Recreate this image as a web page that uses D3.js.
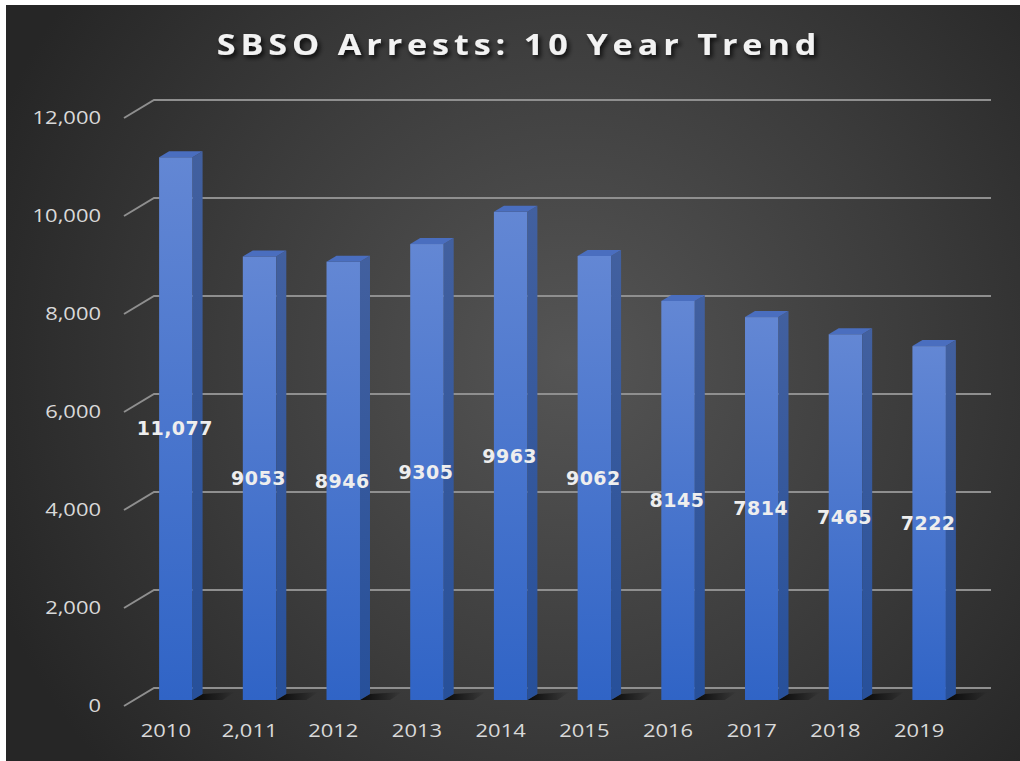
<!DOCTYPE html>
<html>
<head>
<meta charset="utf-8">
<script src="https://cdnjs.cloudflare.com/ajax/libs/d3/7.8.5/d3.min.js"></script>
<style>
	html, body { margin: 0; padding: 0; background: #ffffff; }
	svg { display: block; }
</style>
</head>
<body>
<div id="chart"></div>
<script>

//Data
var years = ["2010", "2,011", "2012", "2013", "2014", "2015", "2016", "2017", "2018", "2019"];
var arrests = [11077, 9053, 8946, 9305, 9963, 9062, 8145, 7814, 7465, 7222];
var valueLabels = ["11,077", "9053", "8946", "9305", "9963", "9062", "8145", "7814", "7465", "7222"];
var yTicks = [0, 2000, 4000, 6000, 8000, 10000, 12000];

///////////////////////////////////////////////////////////////////////////
//////////////////// Set up and initiate svg containers ///////////////////
///////////////////////////////////////////////////////////////////////////

var width = 1020,
	height = 761;

var svg = d3.select("#chart").append("svg")
	.attr("width", width)
	.attr("height", height);

var defs = svg.append("defs");

//Dark radial background
var bgGradient = defs.append("radialGradient")
	.attr("id", "bg-gradient")
	.attr("gradientUnits", "userSpaceOnUse")
	.attr("cx", 570).attr("cy", 360).attr("r", 620);
bgGradient.append("stop").attr("offset", 0).attr("stop-color", "#555555");
bgGradient.append("stop").attr("offset", 0.55).attr("stop-color", "#3c3c3c");
bgGradient.append("stop").attr("offset", 1).attr("stop-color", "#262626");

//Bar faces
var frontGradient = defs.append("linearGradient")
	.attr("id", "front-gradient")
	.attr("x1", 0).attr("y1", 0).attr("x2", 0).attr("y2", 1);
frontGradient.append("stop").attr("offset", 0).attr("stop-color", "#6387d4");
frontGradient.append("stop").attr("offset", 1).attr("stop-color", "#3064c6");

var sideGradient = defs.append("linearGradient")
	.attr("id", "side-gradient")
	.attr("x1", 0).attr("y1", 0).attr("x2", 0).attr("y2", 1);
sideGradient.append("stop").attr("offset", 0).attr("stop-color", "#42609f");
sideGradient.append("stop").attr("offset", 1).attr("stop-color", "#27509a");

var shadowGradient = defs.append("linearGradient")
	.attr("id", "shadow-gradient")
	.attr("x1", 0).attr("y1", 0).attr("x2", 1).attr("y2", 0);
shadowGradient.append("stop").attr("offset", 0).attr("stop-color", "#000000").attr("stop-opacity", 0.85);
shadowGradient.append("stop").attr("offset", 1).attr("stop-color", "#000000").attr("stop-opacity", 0);

var titleShadow = defs.append("filter")
	.attr("id", "title-shadow")
	.attr("x", "-10%").attr("y", "-30%").attr("width", "120%").attr("height", "160%");
titleShadow.append("feDropShadow")
	.attr("dx", 2).attr("dy", 3).attr("stdDeviation", 2)
	.attr("flood-color", "#000000").attr("flood-opacity", 0.8);

svg.append("rect")
	.attr("x", 6).attr("y", 5)
	.attr("width", width - 6).attr("height", height - 5)
	.style("fill", "url(#bg-gradient)");

///////////////////////////////////////////////////////////////////////////
///////////////////////////// Scales & depth //////////////////////////////
///////////////////////////////////////////////////////////////////////////

//Front plane of the 3D box, the back wall sits 30px right and 18px up
var depth = {dx: 30, dy: -18};
var front = {left: 124, right: 961, bottom: 706};

var x = d3.scaleBand()
	.domain(years)
	.range([front.left, front.right]);

var y = d3.scaleLinear()
	.domain([0, 12000])
	.range([front.bottom, front.bottom - 588]);

var barW = x.step() * 0.4;
var sx = 1.22; //horizontal stretch of the text in the picture

///////////////////////////////////////////////////////////////////////////
////////////////////////////// Axes & grid ////////////////////////////////
///////////////////////////////////////////////////////////////////////////

var grid = svg.append("g").attr("class", "grid");

grid.selectAll(".grid-line")
	.data(yTicks)
	.enter().append("polyline")
	.attr("class", "grid-line")
	.attr("points", function(d) {
		var yy = y(d);
		return [
			[front.left, yy],
			[front.left + depth.dx, yy + depth.dy],
			[front.right + depth.dx, yy + depth.dy]
		].join(" ");
	})
	.style("fill", "none")
	.style("stroke", "#8f8f8f")
	.style("stroke-width", 2);

svg.selectAll(".y-label")
	.data(yTicks)
	.enter().append("text")
	.attr("class", "y-label")
	.attr("transform", function(d) { return "translate(101," + y(d) + ") scale(" + sx + ",1)"; })
	.attr("dy", "0.36em")
	.style("text-anchor", "end")
	.style("font-family", "'Open Sans', sans-serif")
	.style("font-size", "18px")
	.style("fill", "#d9d9d9")
	.text(d3.format(","));

svg.selectAll(".x-label")
	.data(years)
	.enter().append("text")
	.attr("class", "x-label")
	.attr("transform", function(d) { return "translate(" + (x(d) + x.bandwidth() / 2) + ",737) scale(" + sx + ",1)"; })
	.style("text-anchor", "middle")
	.style("font-family", "'Open Sans', sans-serif")
	.style("font-size", "18px")
	.style("fill", "#d9d9d9")
	.text(function(d) { return d; });

///////////////////////////////////////////////////////////////////////////
///////////////////////////////// Bars ////////////////////////////////////
///////////////////////////////////////////////////////////////////////////

//Bars sit a third of the way into the box and are a third of it deep
var bx = depth.dx / 3, by = depth.dy / 3;

var bars = svg.selectAll(".bar")
	.data(arrests)
	.enter().append("g")
	.attr("class", "bar")
	.attr("transform", function(d, i) {
		var cx = x(years[i]) + x.bandwidth() / 2;
		return "translate(" + (cx + bx - barW / 2) + "," + by + ")";
	});

var base = y(0);

//floor shadow
bars.append("polygon")
	.attr("points", [[barW, base], [barW + bx, base + by], [barW + bx + 32, base + by - 2], [barW + 30, base]].join(" "))
	.style("fill", "url(#shadow-gradient)");

bars.append("rect")
	.attr("x", 0)
	.attr("y", function(d) { return y(d); })
	.attr("width", barW)
	.attr("height", function(d) { return base - y(d); })
	.style("fill", "url(#front-gradient)");

bars.append("polygon")
	.attr("points", function(d) {
		var t = y(d);
		return [[barW, t], [barW + bx, t + by], [barW + bx, base + by], [barW, base]].join(" ");
	})
	.style("fill", "url(#side-gradient)");

bars.append("polygon")
	.attr("points", function(d) {
		var t = y(d);
		return [[0, t], [barW, t], [barW + bx, t + by], [bx, t + by]].join(" ");
	})
	.style("fill", "#4a6ebf");

bars.append("text")
	.attr("x", barW / 2 - 1)
	.attr("y", function(d) { return (y(d) + base) / 2; })
	.attr("dy", "0.36em")
	.style("text-anchor", "middle")
	.style("font-family", "'DejaVu Sans', sans-serif")
	.style("font-weight", "bold")
	.style("font-size", "19px")
	.style("letter-spacing", "0.5px")
	.style("fill", "#eeeeee")
	.text(function(d, i) { return valueLabels[i]; });

///////////////////////////////////////////////////////////////////////////
///////////////////////////////// Title ///////////////////////////////////
///////////////////////////////////////////////////////////////////////////

svg.append("text")
	.attr("transform", "translate(519,55) scale(" + sx + ",1)")
	.style("text-anchor", "middle")
	.style("font-family", "'Open Sans', sans-serif")
	.style("font-weight", "bold")
	.style("font-size", "28px")
	.style("letter-spacing", "4px")
	.style("fill", "#f2f2f2")
	.style("filter", "url(#title-shadow)")
	.text("SBSO Arrests: 10 Year Trend");

</script>
</body>
</html>
